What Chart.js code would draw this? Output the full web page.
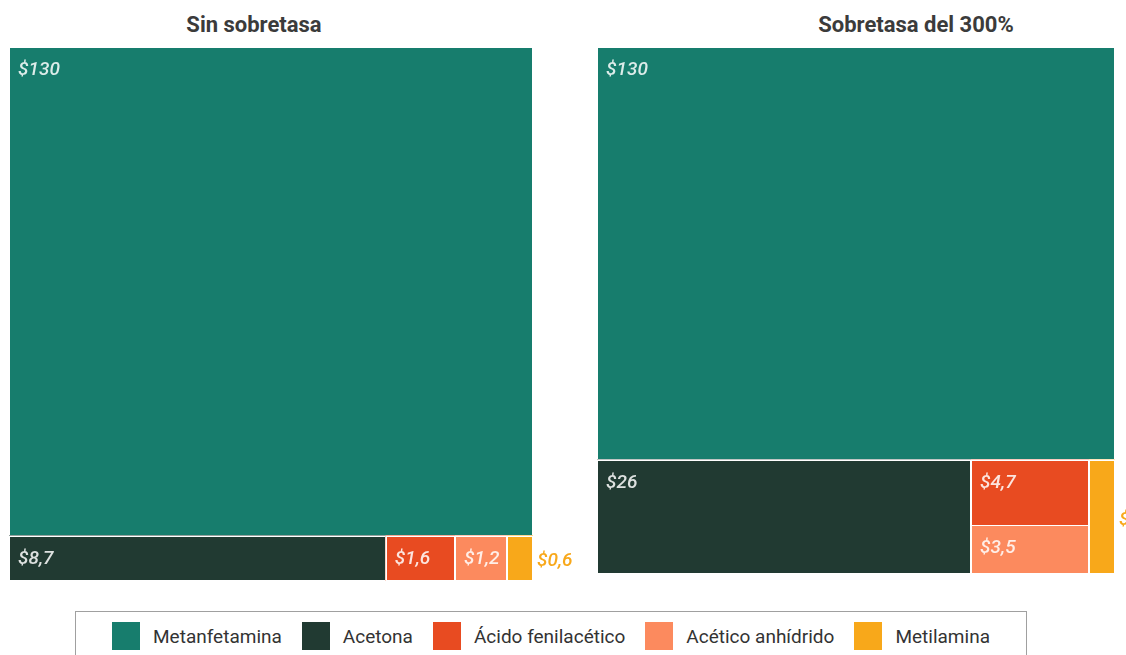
<!DOCTYPE html>
<html lang="es">
<head>
<meta charset="utf-8">
<script src="https://cdn.jsdelivr.net/npm/chart.js@4.4.1/dist/chart.umd.min.js"></script>
<style>
  body { margin: 0; width: 1126px; height: 655px; overflow: hidden; background: #fff; font-family: Roboto, sans-serif; position: relative; }
  .title { position: absolute; top: 14px; line-height: 22px; font-weight: 700; font-size: 22px; color: #3b3b3b; white-space: nowrap; transform: translateX(-50%); }
  .panel { position: absolute; top: 47px; }
  #legend { position: absolute; left: 75px; top: 611px; width: 952px; height: 60px; border: 1px solid #a0a0a0; box-sizing: border-box;
            display: flex; justify-content: center; align-items: flex-start; padding-top: 10px; }
  .item { display: flex; align-items: center; margin: 0 10px; font-size: 19px; color: #333; }
  .swatch { width: 28px; height: 28px; margin-right: 13px; }
</style>
</head>
<body>
<div class="title" style="left:254px">Sin sobretasa</div>
<div class="title" style="left:916px">Sobretasa del 300%</div>
<div class="panel" style="left:9px;width:567px;height:534px"><canvas id="chart-sin"></canvas></div>
<div class="panel" style="left:597px;width:529px;height:527px"><canvas id="chart-con"></canvas></div>
<div id="legend"></div>

<script>
const categories = ['Metanfetamina', 'Acetona', 'Ácido fenilacético', 'Acético anhídrido', 'Metilamina'];
const colors = ['#177d6d', '#213a32', '#e84b21', '#fc8a5e', '#f8a81a'];
const valuesSin = [130, 8.7, 1.6, 1.2, 0.6];
const valuesCon = [130, 26, 4.7, 3.5, 1.8];

// --- SQUARIFY (same as d3 treemapSquarify, golden ratio) ---
function squarify(values, W, H) {
  const ratio = (1 + Math.sqrt(5)) / 2;
  const rects = [];
  let x0 = 0, y0 = 0, x1 = W, y1 = H;
  let value = values.reduce((a, b) => a + b, 0);
  let i0 = 0, i1 = 0;
  const n = values.length;

  while (i0 < n) {
    const dx = x1 - x0, dy = y1 - y0;
    let sum = values[i1++];
    let minV = sum, maxV = sum;
    const alpha = Math.max(dy / dx, dx / dy) / (value * ratio);
    let beta = sum * sum * alpha;
    let minRatio = Math.max(maxV / beta, beta / minV);

    for (; i1 < n; ++i1) {
      const v = values[i1];
      sum += v;
      if (v < minV) minV = v;
      if (v > maxV) maxV = v;
      beta = sum * sum * alpha;
      const newRatio = Math.max(maxV / beta, beta / minV);
      if (newRatio > minRatio) { sum -= v; break; }
      minRatio = newRatio;
    }

    if (dx < dy) {
      const h = dy * sum / value;
      let x = x0;
      for (let i = i0; i < i1; i++) {
        const w = dx * values[i] / sum;
        rects[i] = { x0: x, y0: y0, x1: x + w, y1: y0 + h };
        x += w;
      }
      y0 += h;
    } else {
      const w = dx * sum / value;
      let y = y0;
      for (let i = i0; i < i1; i++) {
        const h = dy * values[i] / sum;
        rects[i] = { x0: x0, y0: y, x1: x0 + w, y1: y + h };
        y += h;
      }
      x0 += w;
    }
    value -= sum;
    i0 = i1;
  }
  return rects;
}

function formatMoney(v) {
  return '$' + String(v).replace('.', ',');
}

// --- TREEMAP PLUGIN ---
const treemapPlugin = {
  id: 'treemap',
  afterDatasetsDraw(chart) {
    const { ctx, chartArea, scales } = chart;
    const W = chartArea.right - chartArea.left;
    const H = chartArea.bottom - chartArea.top;
    const datasets = chart.data.datasets;
    const values = datasets.map(d => d.value);
    // layout in 0..1 units, aspect taken from the chart area
    const rects = squarify(values, W, H).map(r => ({
      x0: r.x0 / W, x1: r.x1 / W, y0: r.y0 / H, y1: r.y1 / H
    }));

    ctx.save();
    rects.forEach((r, i) => {
      const px0 = scales.x.getPixelForValue(r.x0);
      const px1 = scales.x.getPixelForValue(r.x1);
      const py0 = scales.y.getPixelForValue(r.y0);
      const py1 = scales.y.getPixelForValue(r.y1);
      ctx.fillStyle = datasets[i].backgroundColor;
      ctx.fillRect(px0, py0, px1 - px0, py1 - py0);
      ctx.strokeStyle = '#ffffff';
      ctx.lineWidth = 1;
      ctx.strokeRect(Math.round(px0) + 0.5, Math.round(py0) + 0.5, Math.round(px1 - px0) - 1, Math.round(py1 - py0) - 1);
    });

    ctx.font = 'italic 500 19px Roboto, sans-serif';
    rects.forEach((r, i) => {
      const px0 = scales.x.getPixelForValue(r.x0);
      const px1 = scales.x.getPixelForValue(r.x1);
      const py0 = scales.y.getPixelForValue(r.y0);
      const py1 = scales.y.getPixelForValue(r.y1);
      const text = formatMoney(datasets[i].value);
      const tw = ctx.measureText(text).width;
      if (tw + 10 <= px1 - px0 && py1 - py0 >= 30) {
        ctx.fillStyle = 'rgba(255,255,255,0.85)';
        ctx.textAlign = 'left';
        ctx.textBaseline = 'alphabetic';
        ctx.fillText(text, px0 + 9, py0 + 28);
      } else {
        ctx.fillStyle = datasets[i].backgroundColor;
        ctx.textAlign = 'left';
        ctx.textBaseline = 'middle';
        ctx.fillText(text, px1 + 4, (py0 + py1) / 2 + 3);
      }
    });
    ctx.restore();
  }
};

function renderTreemap(id, values, padRight) {
  const ctx = document.getElementById(id);
  return new Chart(ctx, {
    type: 'scatter',
    data: {
      datasets: categories.map((c, i) => ({
        label: c,
        data: [],
        value: values[i],
        backgroundColor: colors[i]
      }))
    },
    options: {
      responsive: true,
      maintainAspectRatio: false,
      animation: false,
      events: [],
      layout: { padding: { left: 0, top: 0, bottom: 0, right: padRight } },
      plugins: {
        legend: { display: false },
        tooltip: { enabled: false },
        title: { display: false }
      },
      scales: {
        x: { type: 'linear', min: 0, max: 1, display: false },
        y: { type: 'linear', min: 0, max: 1, reverse: true, display: false }
      }
    },
    plugins: [treemapPlugin]
  });
}

renderTreemap('chart-sin', valuesSin, 43);
renderTreemap('chart-con', valuesCon, 11);

// --- LEGEND ---
const legend = document.getElementById('legend');
categories.forEach((c, i) => {
  const item = document.createElement('div');
  item.className = 'item';
  item.innerHTML = '<span class="swatch" style="background:' + colors[i] + '"></span><span>' + c + '</span>';
  legend.appendChild(item);
});
</script>
</body>
</html>
